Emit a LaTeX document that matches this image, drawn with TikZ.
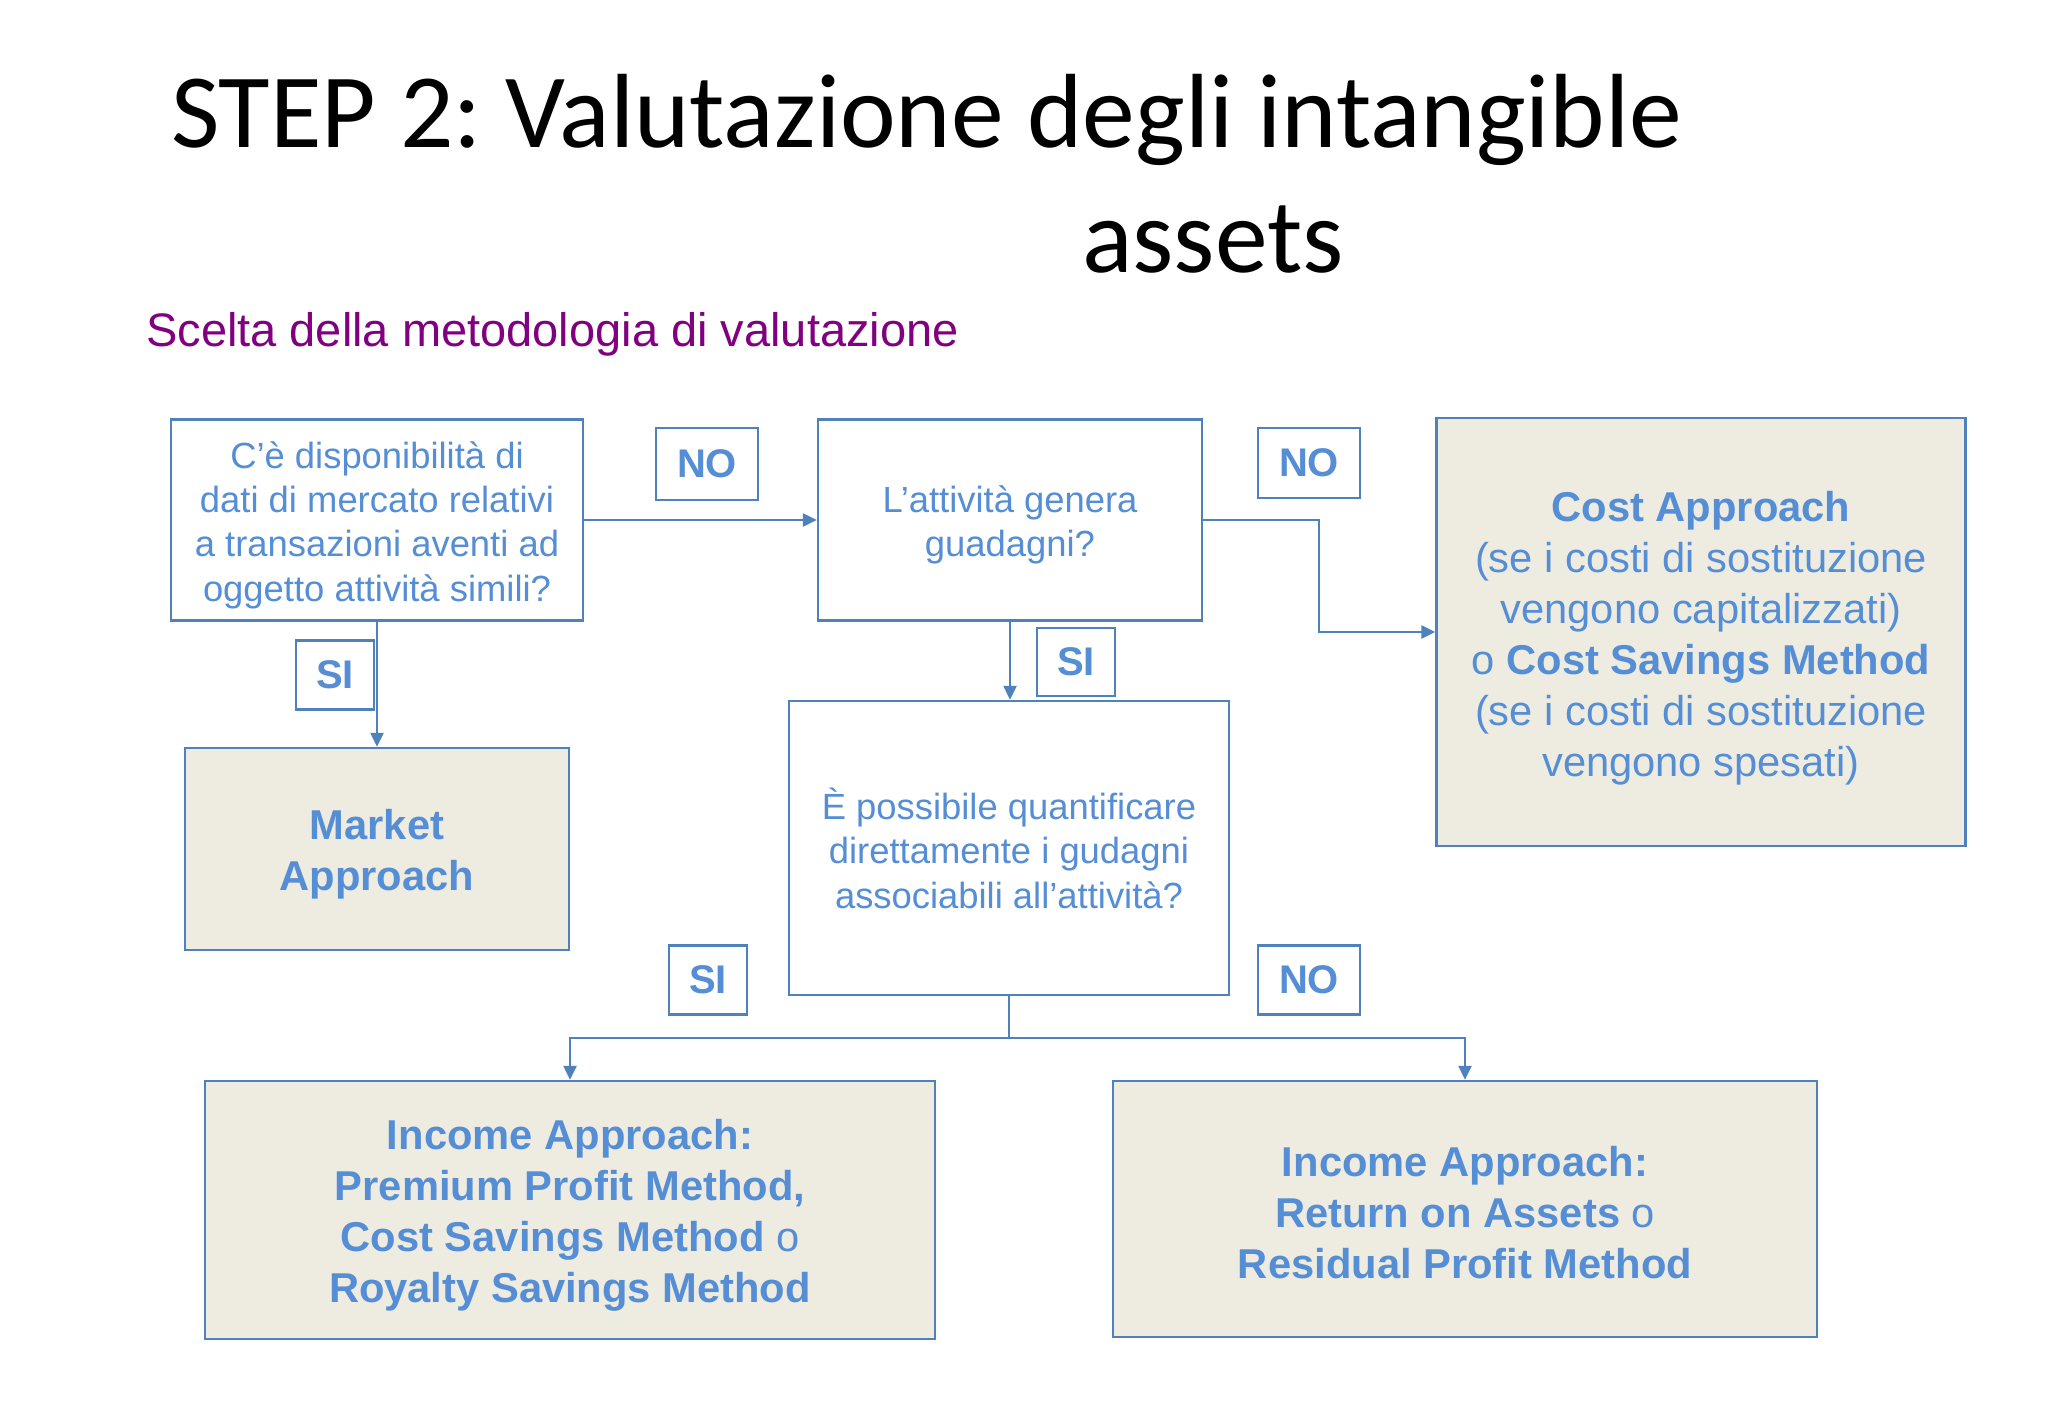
\documentclass[tikz,border=0pt]{standalone}
\usepackage{fontspec}
\setmainfont{Liberation Sans}
\newfontfamily\titlefont{Carlito}
\usetikzlibrary{arrows.meta}
\definecolor{lineblue}{HTML}{4F81BD}
\definecolor{textblue}{HTML}{558ED5}
\definecolor{boxfill}{HTML}{EEECE1}
\definecolor{subpurple}{HTML}{800080}
\frenchspacing
\begin{document}
\begin{tikzpicture}[x=1pt,y=-1pt,
  qbox/.style={draw=lineblue, line width=2.5pt, fill=white, inner sep=0pt},
  abox/.style={draw=lineblue, line width=2.5pt, fill=boxfill, inner sep=0pt},
  qtext/.style={text=textblue, align=center, inner sep=0pt, font=\fontsize{36.4}{44.4}\selectfont},
  atext/.style={text=textblue, align=center, inner sep=0pt, font=\fontsize{41.7}{51}\selectfont},
  lbl/.style={draw=lineblue, line width=2.5pt, fill=white, text=textblue, inner sep=0pt, font=\fontsize{40}{48}\selectfont\bfseries},
  conn/.style={draw=lineblue, line width=2.5pt},
  arr/.style={conn, -{Triangle[length=14pt,width=13pt]}},
]
\fill[white] (0,0) rectangle (2048,1418);
\useasboundingbox (0,0) rectangle (2048,1418);

% title
\node[anchor=base west, inner sep=0pt, font=\titlefont\fontsize{105.5}{125}\selectfont] (title1) at (171,148) {STEP 2: Valutazione degli intangible};
\node[anchor=base west, inner sep=0pt, font=\titlefont\fontsize{105.5}{125}\selectfont] (title2) at (1082,272) {assets};
\node[anchor=base west, inner sep=0pt, text=subpurple, font=\fontsize{47}{56}\selectfont] (sub) at (146,346) {Scelta della metodologia di valutazione};

% question boxes
\node[qbox, minimum width=412pt, minimum height=201pt] (q1) at (377,520) {};
\node[qtext] (q1t) at ([yshift=-5pt]q1.center) {C’è disponibilità di\\dati di mercato relativi\\a transazioni aventi ad\\oggetto attività simili?};
\node[qbox, minimum width=384pt, minimum height=201pt] (q2) at (1010,520) {};
\node[qtext] (q2t) at ([yshift=-5pt]q2.center) {L’attività genera\\guadagni?};
\node[qbox, minimum width=440pt, minimum height=294pt] (q3) at (1009,848) {};
\node[qtext] (q3t) at (q3.center) {È possibile quantificare\\direttamente i gudagni\\associabili all’attività?};

% answer boxes
\node[abox, minimum width=529pt, minimum height=428pt] (cost) at (1701,632) {};
\node[atext] (costt) at ([yshift=-6pt]cost.center) {\textbf{Cost Approach}\\(se i costi di sostituzione\\vengono capitalizzati)\\o \textbf{Cost Savings Method}\\(se i costi di sostituzione\\vengono spesati)};
\node[abox, minimum width=384pt, minimum height=202pt] (market) at (377,849) {};
\node[atext] (markett) at ([yshift=-5pt]market.center) {\textbf{Market}\\\textbf{Approach}};
\node[abox, minimum width=730pt, minimum height=258pt] (inc1) at (570,1210) {};
\node[atext] (inc1t) at ([yshift=-5pt]inc1.center) {\textbf{Income Approach:}\\\textbf{Premium Profit Method,}\\\textbf{Cost Savings Method} o\\\textbf{Royalty Savings Method}};
\node[abox, minimum width=704pt, minimum height=256pt] (inc2) at (1465,1209) {};
\node[atext] (inc2t) at ([yshift=-4pt]inc2.center) {\textbf{Income Approach:}\\\textbf{Return on Assets} o\\\textbf{Residual Profit Method}};

% labels
\node[lbl, minimum width=102pt, minimum height=72pt] (no1) at (707,464) {NO};
\node[lbl, minimum width=102pt, minimum height=70pt] (no2) at (1309,463) {NO};
\node[lbl, minimum width=102pt, minimum height=69pt] (no3) at (1309,980) {NO};
\node[lbl, minimum width=78pt, minimum height=69pt] (si1) at (335,675) {SI};
\node[lbl, minimum width=78pt, minimum height=68pt] (si2) at (1076,662) {SI};
\node[lbl, minimum width=78pt, minimum height=69pt] (si3) at (708,980) {SI};

% connectors
\coordinate (bend1) at (1319,632);
\coordinate (split) at (1009,1038);
\draw[arr] (q1.east) -- (q2.west);
\draw[arr] (q2.east) -| (bend1) -- (cost.west);
\draw[arr] (q1.south) -- (market.north);
\draw[arr] (q2.south) -- (q2.south |- q3.north);
\draw[conn] (q3.south) -- (split);
\draw[arr] (split) -| (inc1.north);
\draw[arr] (split) -| (inc2.north);
\end{tikzpicture}
\end{document}
